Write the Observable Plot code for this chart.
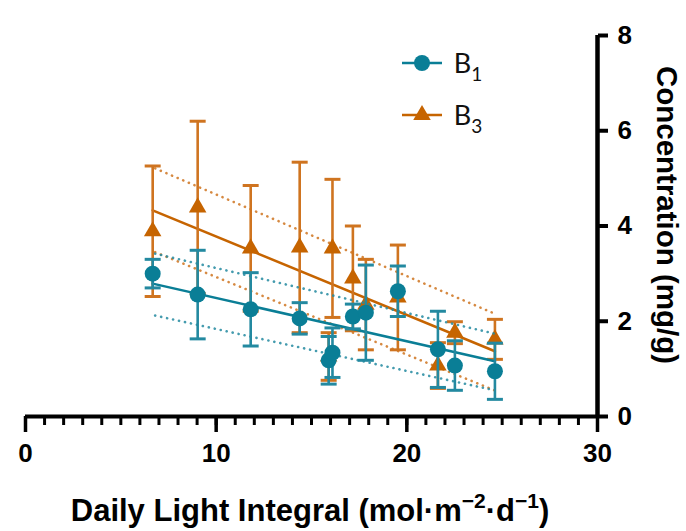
<!DOCTYPE html>
<html><head><meta charset="utf-8">
<script src="https://cdn.jsdelivr.net/npm/d3@7"></script>
<script src="https://cdn.jsdelivr.net/npm/@observablehq/plot@0.6"></script>
<style>body{margin:0;background:#fff} #chart{width:686px;height:531px}</style>
</head><body><div id="chart"></div>
<script>
// ---- data ----
const dli    = [6.67, 9.03, 11.81, 14.38, 15.9, 16.1, 17.17, 17.85, 19.53, 21.63, 22.52, 24.62];
const b1Mean = [3.00, 2.56, 2.25, 2.06, 1.18, 1.34, 2.10, 2.18, 2.63, 1.41, 1.07, 0.95];
const b1Err  = [0.30, 0.93, 0.77, 0.33, 0.50, 0.52, 0.26, 1.00, 0.53, 0.80, 0.52, 0.59];
const b3Mean = [3.89, 4.39, 3.53, 3.55, 1.26, 3.53, 2.90, 2.35, 2.50, 1.07, 1.76, 1.62];
const b3Err  = [1.37, 1.81, 1.32, 1.79, 0.50, 1.45, 1.10, 0.95, 1.10, 0.48, 0.23, 0.42];
const fitX    = [6.67, 24.62];
const b1Fit   = [2.79, 1.16];
const b3Fit   = [4.33, 1.37];
const bandX   = [6.8, 24.6];
const b1Upper = [3.42, 1.74];
const b1Lower = [2.12, 0.55];
const b3Upper = [5.21, 2.16];
const b3Lower = [3.45, 0.55];
const xTicks = [0, 10, 20, 30];
const xMinorTicks = d3.range(0, 31, 1);
const yTicks = [0, 2, 4, 6, 8];
const seriesNames = ["B1", "B3"];
const colB1 = "#0a7e96", colB1bar = "#2389a0";
const colB3 = "#c66400", colB3bar = "#cf7420";

const rows = (m, e) => dli.map((x, i) => ({x, y: m[i], lo: m[i] - e[i], hi: m[i] + e[i]}));
const b1 = rows(b1Mean, b1Err), b3 = rows(b3Mean, b3Err);
const pts = (xs, ys) => xs.map((x, i) => ({x, y: ys[i]}));

const capSymbol = {draw(ctx, size) { const w = Math.sqrt(size / Math.PI); ctx.moveTo(-w, 0); ctx.lineTo(w, 0); }};

function seriesMarks(d, col, barCol, symbol, r, fit, up, lo) {
  const dotted = {x: "x", y: "y", stroke: barCol, strokeWidth: 2.6, strokeDasharray: "0.1 6", strokeLinecap: "round", strokeOpacity: 0.85};
  return [
    Plot.line(pts(bandX, up), dotted),
    Plot.line(pts(bandX, lo), dotted),
    Plot.line(pts(fitX, fit), {x: "x", y: "y", stroke: col, strokeWidth: 2.5}),
    Plot.ruleX(d, {x: "x", y1: "lo", y2: "hi", stroke: barCol, strokeWidth: 2.6}),
    Plot.dot(d, {x: "x", y: "hi", symbol: capSymbol, r: 8, stroke: barCol, strokeWidth: 3}),
    Plot.dot(d, {x: "x", y: "lo", symbol: capSymbol, r: 8, stroke: barCol, strokeWidth: 3}),
    Plot.dot(d, {x: "x", y: "y", symbol, r, fill: col, stroke: "none"})
  ];
}

const plot = Plot.plot({
  width: 686, height: 531,
  marginLeft: 25, marginRight: 89, marginTop: 35, marginBottom: 115,
  x: {domain: [0, 30], label: null},
  y: {domain: [0, 8], label: null},
  style: {fontFamily: "'Liberation Sans', Arial, sans-serif", background: "white", color: "black"},
  marks: [
    ...seriesMarks(b3, colB3, colB3bar, "triangle", 6.5, b3Fit, b3Upper, b3Lower),
    ...seriesMarks(b1, colB1, colB1bar, "circle", 8, b1Fit, b1Upper, b1Lower),
    Plot.axisX({ticks: xMinorTicks, tickSize: 9, strokeWidth: 3, tickFormat: () => "", label: null}),
    Plot.axisX({ticks: xTicks, tickSize: 16, strokeWidth: 3.5, tickPadding: 11, fontSize: 26, fontWeight: "bold", label: null}),
    Plot.axisY({anchor: "right", ticks: yTicks, tickSize: 10, strokeWidth: 4, tickPadding: 10, fontSize: 26, fontWeight: "bold", label: null}),
    Plot.ruleY([0], {x1: 0, x2: 30, strokeWidth: 4}),
    Plot.ruleX([30], {y1: 0, y2: 8, strokeWidth: 4.5})
  ]
});
document.getElementById("chart").appendChild(plot);

// titles and legend
const svg = d3.select(plot);
const xt = svg.append("text").attr("x", 310).attr("y", 521).attr("text-anchor", "middle")
  .attr("font-family", "'Liberation Sans', Arial, sans-serif").attr("font-weight", "bold").attr("font-size", 31).attr("fill", "black");
xt.append("tspan").text("Daily Light Integral (mol·m");
xt.append("tspan").attr("dy", -13).attr("font-size", 21).text("−2");
xt.append("tspan").attr("dy", 13).text("·d");
xt.append("tspan").attr("dy", -13).attr("font-size", 21).text("−1");
xt.append("tspan").attr("dy", 13).text(")");

svg.append("text").attr("transform", "translate(657,215) rotate(90)").attr("text-anchor", "middle")
  .attr("font-family", "'Liberation Sans', Arial, sans-serif").attr("font-weight", "bold").attr("font-size", 29.5).attr("fill", "black")
  .text("Concentration (mg/g)");

const legend = [
  {name: seriesNames[0], col: colB1, sym: d3.symbolCircle, size: Math.PI * 64, y: 63},
  {name: seriesNames[1], col: colB3, sym: d3.symbolTriangle, size: Math.PI * 6.5 * 6.5, y: 115}
];
for (const L of legend) {
  svg.append("line").attr("x1", 402).attr("x2", 442).attr("y1", L.y).attr("y2", L.y).attr("stroke", L.col).attr("stroke-width", 2.5);
  svg.append("path").attr("d", d3.symbol(L.sym, L.size)()).attr("transform", `translate(422,${L.y})`).attr("fill", L.col);
  const t = svg.append("text").attr("x", 468).attr("y", L.y + 10).attr("font-family", "Lato, 'Open Sans', sans-serif").attr("font-size", 27).attr("fill", "#111");
  t.append("tspan").text(L.name[0]);
  t.append("tspan").attr("dy", 8).attr("font-size", 19).text(L.name.slice(1));
}
</script>
</body></html>
